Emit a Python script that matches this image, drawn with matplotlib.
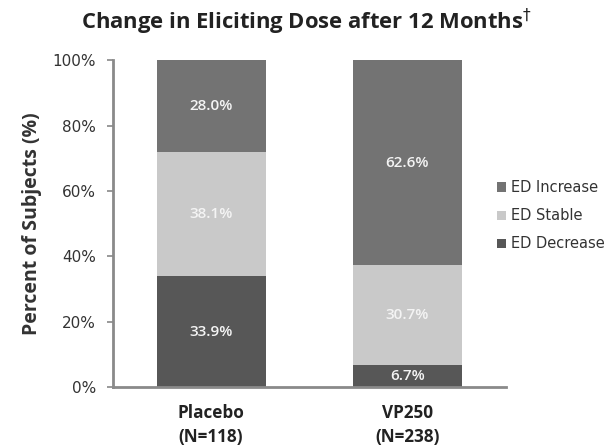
import matplotlib
matplotlib.use("Agg")
import matplotlib.pyplot as plt
import numpy as np

groups = ["Placebo\n(N=118)", "VP250\n(N=238)"]
ed_decrease = [33.9, 6.7]
ed_stable = [38.1, 30.7]
ed_increase = [28.0, 62.6]
yticks = [0, 20, 40, 60, 80, 100]

c_dec = "#575757"
c_stab = "#c9c9c9"
c_inc = "#737373"

fig = plt.figure(figsize=(6.13, 4.46), dpi=100)
ax = fig.add_axes([0.184, 0.132, 0.641, 0.733])

x = np.arange(len(groups))
w = 0.555
b1 = ax.bar(x, ed_decrease, w, color=c_dec, label="ED Decrease")
b2 = ax.bar(x, ed_stable, w, bottom=ed_decrease, color=c_stab, label="ED Stable")
bottom3 = np.array(ed_decrease) + np.array(ed_stable)
b3 = ax.bar(x, ed_increase, w, bottom=bottom3, color=c_inc, label="ED Increase")

for bars, vals, bots in [(b1, ed_decrease, [0, 0]), (b2, ed_stable, ed_decrease), (b3, ed_increase, bottom3)]:
    for xi, v, b in zip(x, vals, bots):
        ax.text(xi, b + v / 2, f"{v:.1f}%", ha="center", va="center", color="#f4f4f4",
                fontsize=11, fontweight="semibold", family="Open Sans")

ax.set_xlim(-0.5, 1.5)
ax.set_ylim(0, 100)
ax.set_yticks(yticks)
ax.set_yticklabels([f"{t}%" for t in yticks], fontsize=11, color="#333333", family="DejaVu Sans")
ax.set_xticks(x)
ax.set_xticklabels(groups, fontsize=12.3, fontweight="bold", color="#222222", family="Open Sans",
                   linespacing=1.45)
ax.tick_params(axis="x", length=0, pad=12)
ax.tick_params(axis="y", length=4, color="#888888", width=1.2, pad=8)
for s in ["top", "right"]:
    ax.spines[s].set_visible(False)
for s in ["left", "bottom"]:
    ax.spines[s].set_color("#8a8a8a")
    ax.spines[s].set_linewidth(2)

ax.set_ylabel("Percent of Subjects (%)", fontsize=14, fontweight="bold", color="#333333",
              family="Open Sans", labelpad=8)
fig.suptitle("Change in Eliciting Dose after 12 Months$^{\\dagger}$", x=0.5, y=0.985,
             fontsize=15.8, fontweight="bold", color="#222222", family="Open Sans")

handles = [b3, b2, b1]
leg = fig.legend(handles, ["ED Increase", "ED Stable", "ED Decrease"], loc="center left",
                 bbox_to_anchor=(0.79, 0.516), frameon=False,
                 handlelength=0.6, handleheight=0.6, handletextpad=0.3, labelspacing=0.9,
                 prop={"family": "DejaVu Sans", "size": 10.5})
for t in leg.get_texts():
    t.set_color("#333333")

fig.savefig("out.png", dpi=100)
